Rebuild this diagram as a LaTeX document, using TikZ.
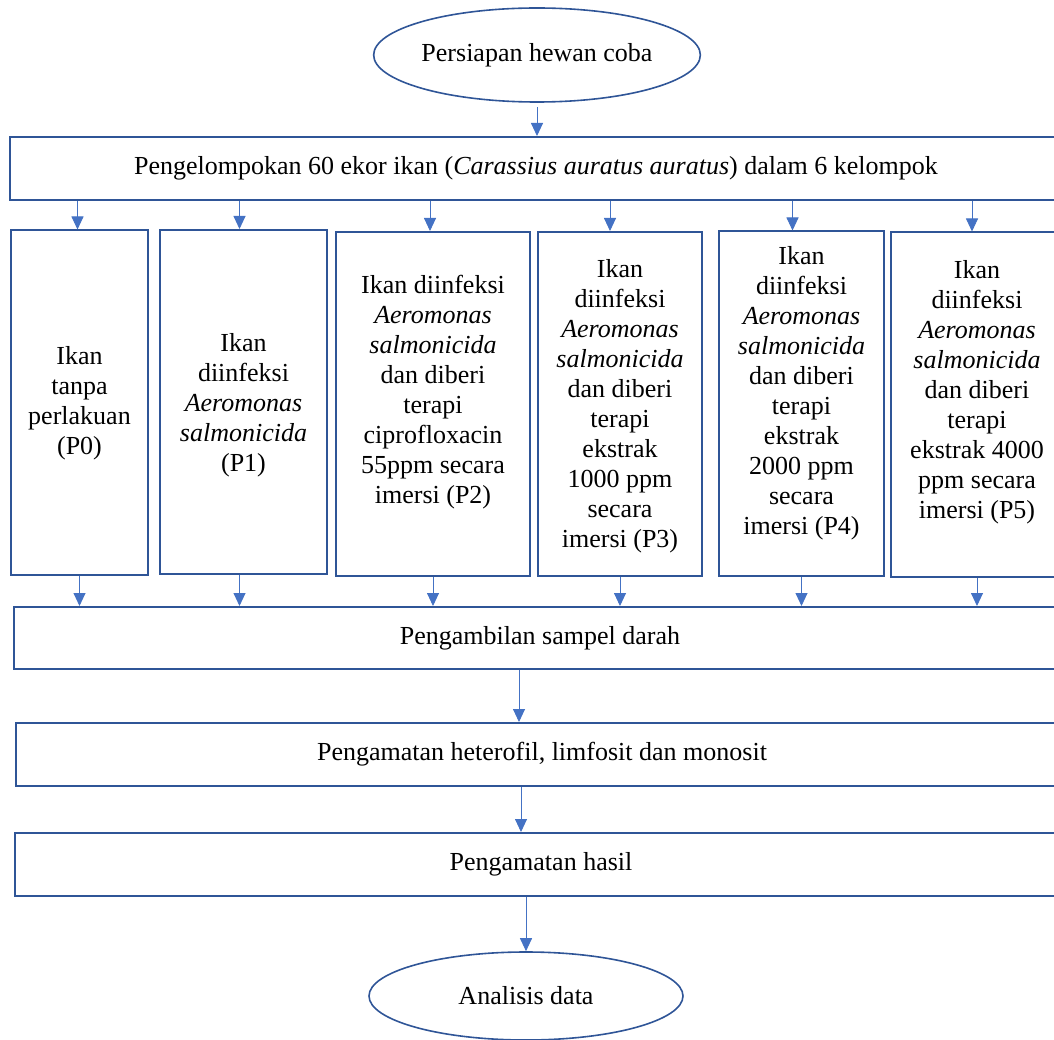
\documentclass[tikz,border=0pt]{standalone}
\usepackage{fontspec}
\setmainfont{Liberation Serif}
\usetikzlibrary{positioning,arrows.meta,shapes.geometric}
\usepackage{xcolor}
\definecolor{boxblue}{HTML}{2F5597}
\definecolor{arrowblue}{HTML}{4472C4}

\begin{document}
\begin{tikzpicture}[
  x=1pt, y=-1pt,
  font=\fontsize{26}{30}\selectfont,
  block/.style={draw=boxblue, line width=2pt, align=center, inner sep=0pt},
  wide/.style={block, minimum width=1052pt, minimum height=63pt},
  column/.style={draw=boxblue, line width=2pt, minimum height=344pt},
  coltext/.style={align=center, inner sep=0pt},
  oval/.style={ellipse, draw=boxblue, line width=1.6pt, inner sep=0pt},
  arrow/.style={-{Triangle[length=13pt,width=12pt]}, draw=arrowblue, line width=0.9pt}
]
\useasboundingbox (0,0) rectangle (1054,1040);

\node[oval, minimum width=316pt, minimum height=94pt] (start) at (537,55) {Persiapan hewan coba};
\node[wide] (group) at (536,168.5) {Pengelompokan 60 ekor ikan (\textit{Carassius auratus auratus}) dalam 6 kelompok};

% treatment groups
\node[column, minimum width=137pt] (p0) at (79.5,402.5) {};
\node[column, minimum width=167pt] (p1) at (243.5,402) {};
\node[column, minimum width=194pt] (p2) at (433,404) {};
\node[column, minimum width=164pt] (p3) at (620,404) {};
\node[column, minimum width=165pt] (p4) at (801.5,403.5) {};
\node[column, minimum width=172pt] (p5) at (977,404.5) {};

\node[coltext] (p0text) at (79.5,403) {Ikan\\tanpa\\perlakuan\\(P0)};
\node[coltext] (p1text) at (243.5,405) {Ikan\\diinfeksi\\\textit{Aeromonas}\\\textit{salmonicida}\\(P1)};
\node[coltext] (p2text) at (433,392) {Ikan diinfeksi\\\textit{Aeromonas}\\\textit{salmonicida}\\dan diberi\\terapi\\ciprofloxacin\\55ppm secara\\imersi (P2)};
\node[coltext] (p3text) at (620,406) {Ikan\\diinfeksi\\\textit{Aeromonas}\\\textit{salmonicida}\\dan diberi\\terapi\\ekstrak\\1000 ppm\\secara\\imersi (P3)};
\node[coltext] (p4text) at (801.5,393) {Ikan\\diinfeksi\\\textit{Aeromonas}\\\textit{salmonicida}\\dan diberi\\terapi\\ekstrak\\2000 ppm\\secara\\imersi (P4)};
\node[coltext] (p5text) at (977,392) {Ikan\\diinfeksi\\\textit{Aeromonas}\\\textit{salmonicida}\\dan diberi\\terapi\\ekstrak 4000\\ppm secara\\imersi (P5)};

\node[wide, minimum height=62pt] (sample) at (540,638) {Pengambilan sampel darah};
\node[wide] (observe) at (542,754.5) {Pengamatan heterofil, limfosit dan monosit};
\node[wide] (result) at (541,864.5) {Pengamatan hasil};
\node[oval, minimum width=314pt, minimum height=88pt] (analysis) at (526,996) {Analisis data};

\draw[arrow] ([yshift=-4pt]start.south) -- (start.south |- group.north);
\draw[arrow] ([xshift=-2pt]p0.north |- group.south) -- ([xshift=-2pt]p0.north);
\draw[arrow] ([xshift=-4pt]p1.north |- group.south) -- ([xshift=-4pt]p1.north);
\draw[arrow] ([xshift=-3pt]p2.north |- group.south) -- ([xshift=-3pt]p2.north);
\draw[arrow] ([xshift=-10pt]p3.north |- group.south) -- ([xshift=-10pt]p3.north);
\draw[arrow] ([xshift=-9pt]p4.north |- group.south) -- ([xshift=-9pt]p4.north);
\draw[arrow] ([xshift=-5pt]p5.north |- group.south) -- ([xshift=-5pt]p5.north);
\draw[arrow] (p0.south) -- (p0.south |- sample.north);
\draw[arrow] ([xshift=-4pt]p1.south) -- ([xshift=-4pt]p1.south |- sample.north);
\draw[arrow] (p2.south) -- (p2.south |- sample.north);
\draw[arrow] (p3.south) -- (p3.south |- sample.north);
\draw[arrow] (p4.south) -- (p4.south |- sample.north);
\draw[arrow] (p5.south) -- (p5.south |- sample.north);
\draw[arrow] ([xshift=-21pt]sample.south) -- ([xshift=-21pt]sample.south |- observe.north);
\draw[arrow] ([xshift=-21pt]observe.south) -- ([xshift=-21pt]observe.south |- result.north);
\draw[arrow] (result.south -| analysis.north) -- (analysis.north);
\end{tikzpicture}
\end{document}
